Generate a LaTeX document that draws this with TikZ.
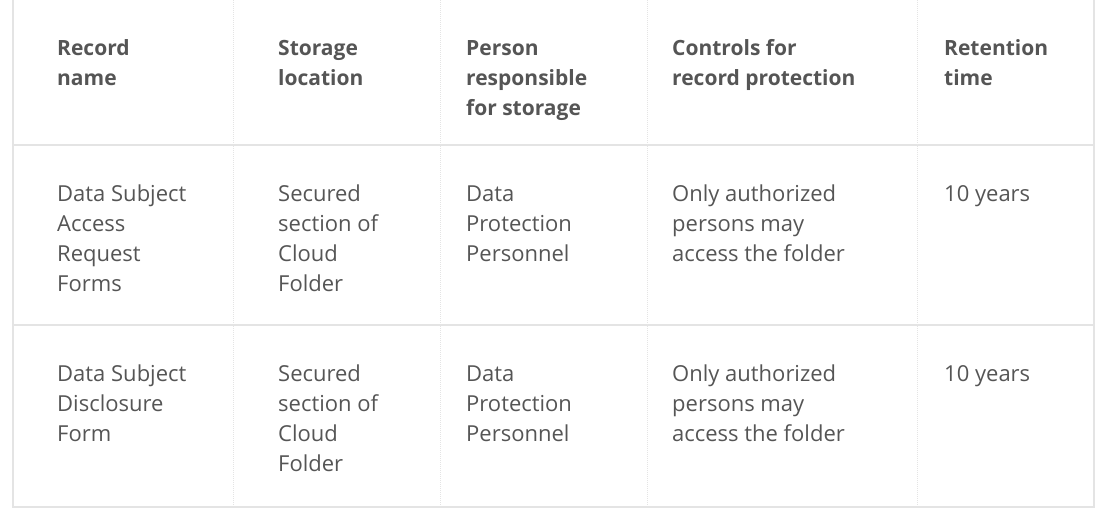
\documentclass[tikz,border=0pt]{standalone}
\usepackage{fontspec}
\setmainfont{Open Sans}
\usepackage{xcolor}
\definecolor{txtgray}{HTML}{555555}
\definecolor{rulegray}{HTML}{E4E4E4}
\begin{document}
\begin{tikzpicture}[x=1pt,y=-1pt,
  cell/.style={anchor=north west,inner sep=0pt,align=left,text=txtgray,font=\fontsize{22}{30}\selectfont},
  head/.style={cell,font=\fontsize{21}{30}\selectfont\bfseries}]
\useasboundingbox (0,0) rectangle (1104,520);

% Rules
\draw[rulegray,line width=1.5pt] (13,0) -- (13,507) -- (1094,507) -- (1094,0);
\draw[rulegray,line width=1.5pt] (13,145) -- (1094,145);
\draw[rulegray,line width=1.5pt] (13,325) -- (1094,325);
\foreach \x in {233,440,647,917}
  \draw[rulegray,line width=1pt,densely dotted] (\x,0) -- (\x,507);

% Header
\node[head] (h1) at (57,34) {\strut Record\\name};
\node[head] (h2) at (278,34) {\strut Storage\\location};
\node[head] (h3) at (466,34) {\strut Person\\responsible\\for storage};
\node[head] (h4) at (672,34) {\strut Controls for\\record protection};
\node[head] (h5) at (944,34) {\strut Retention\\time};

% Row 1
\node[cell] (a1) at (57,180) {\strut Data Subject\\Access\\Request\\Forms};
\node[cell] (a2) at (278,180) {\strut Secured\\section of\\Cloud\\Folder};
\node[cell] (a3) at (466,180) {\strut Data\\Protection\\Personnel};
\node[cell] (a4) at (672,180) {\strut Only authorized\\persons may\\access the folder};
\node[cell] (a5) at (944,180) {\strut 10 years};

% Row 2
\node[cell] (b1) at (57,360) {\strut Data Subject\\Disclosure\\Form};
\node[cell] (b2) at (278,360) {\strut Secured\\section of\\Cloud\\Folder};
\node[cell] (b3) at (466,360) {\strut Data\\Protection\\Personnel};
\node[cell] (b4) at (672,360) {\strut Only authorized\\persons may\\access the folder};
\node[cell] (b5) at (944,360) {\strut 10 years};
\end{tikzpicture}
\end{document}
